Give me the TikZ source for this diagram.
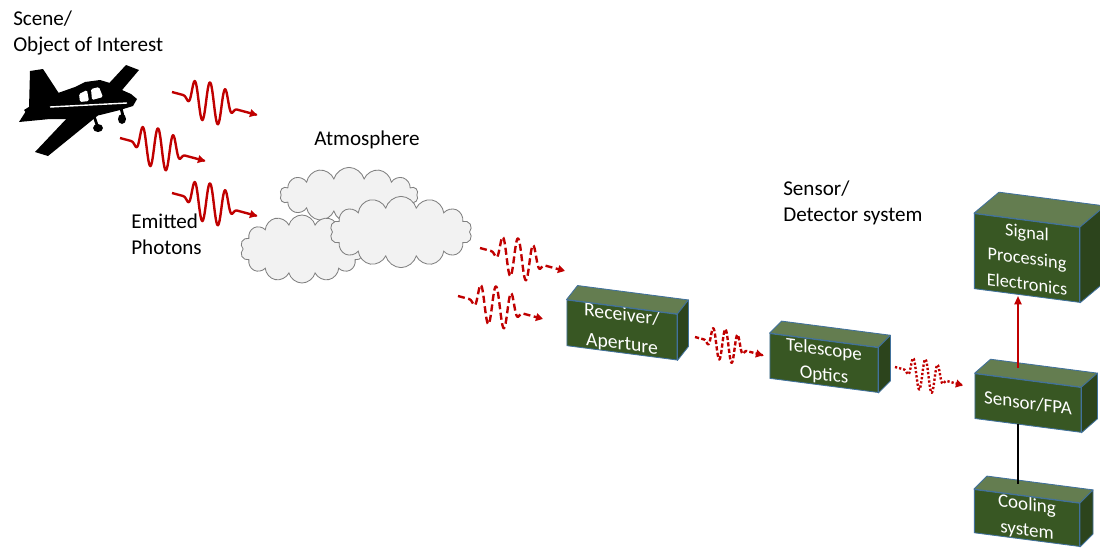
\documentclass[tikz,border=0pt]{standalone}
\usepackage{fontspec}
\setmainfont{Carlito}
\usetikzlibrary{arrows.meta,calc,shapes.symbols}

\definecolor{boxfront}{HTML}{385723}
\definecolor{boxtop}{HTML}{647D50}
\definecolor{boxside}{HTML}{2C441C}
\definecolor{boxline}{HTML}{41719C}
\definecolor{wavered}{HTML}{C00000}
\definecolor{cloudfill}{HTML}{F2F2F2}
\definecolor{cloudline}{HTML}{808080}

\tikzset{
  declare function={env(\t)=exp(-min(pow((\t-38)*(\t-38)/441,3),9));},
  lbl/.style={align=left, inner sep=0pt, font=\fontsize{15}{18.4}\selectfont},
  block/.style={draw=boxline, fill=boxfront, line width=0.6pt, text=white,
    yslant=-0.13, minimum width=2.7cm, minimum height=1.12cm, inner sep=0pt,
    align=center, font=\fontsize{13.5}{18}\selectfont},
  topface/.style={draw=boxline, fill=boxtop, line width=0.6pt, line join=round},
  sideface/.style={draw=boxline, fill=boxside, line width=0.6pt, line join=round},
  puff/.style={cloud, cloud puffs=14, cloud ignores aspect, draw=cloudline,
    fill=cloudfill, line width=0.6pt},
  photon/.style={draw=wavered, line width=1.7pt, line join=round,
    -{Triangle[length=5pt,width=5.5pt]}},
  packet/.pic={
    \draw[photon] plot[domain=0:85, samples=110, smooth]
      (\x, {0.27*\x - 20*env(\x)*cos(23.2*(\x-38))});
  },
}

% front face as a slanted node, top and side faces hung on its corners
\newcommand{\cuboid}[5]{%
  \node[block, #4] (#1) at #2 {#5};
  \filldraw[topface] (#1.north west) -- ($(#1.north west)+#3$)
    -- ($(#1.north east)+#3$) -- (#1.north east) -- cycle;
  \filldraw[sideface] (#1.north east) -- ($(#1.north east)+#3$)
    -- ($(#1.south east)+#3$) -- (#1.south east) -- cycle;
}

\begin{document}
\begin{tikzpicture}[x=0.025cm, y=-0.025cm]
\useasboundingbox (0,0) rectangle (1100,548);
\clip (0,0) rectangle (1100,548);

% airplane
\fill (24,110) -- (40,100) -- (58,93) -- (75,87) -- (85,82) -- (100,80)
  -- (110,83) -- (122,90) -- (131,94) -- (137,99) -- (133,106) -- (120,110)
  -- (100,115) -- (75,119) -- (50,119) -- (30,118) -- cycle;
\fill (29,108) -- (30,71) -- (43,69) -- (60,95) -- cycle;
\fill (19,122) -- (26,111) -- (56,111) -- (50,119) -- cycle;
\fill (70,115) -- (101,113) -- (48,156) -- (35,152) -- cycle;
\fill (101,92) -- (126,65) -- (139,70) -- (117,96) -- cycle;
\fill[white, rounded corners=1pt] (79,94) -- (87,90) -- (89,101) -- (80,102) -- cycle;
\fill[white, rounded corners=1pt] (91,89) -- (99,87) -- (103,97) -- (92,100) -- cycle;
\draw[white, line width=1pt] (50,107) -- (127,103);
\draw[line width=2pt] (121,108) -- (123,116);
\fill (122,119) ellipse [x radius=4, y radius=5];
\draw[line width=2pt] (94,116) -- (97,125);
\fill (98,128) ellipse [x radius=5, y radius=4];

\node[lbl, anchor=north west] (scene) at (13,11) {Scene/\\Object of Interest};
\node[lbl] (atmo) at (367,140) {Atmosphere};
\node[lbl, anchor=north west] (emitted) at (131,214) {Emitted\\Photons};
\node[lbl, anchor=north west] (sensorsys) at (783,181) {Sensor/\\Detector system};

% emitted photons
\pic at (172,92) {packet};
\pic at (120,138) {packet};
\pic at (172,193) {packet};

% clouds
\node[puff, minimum width=3.45cm, minimum height=1.38cm] (cloudback) at (349,195) {};
\node[puff, minimum width=3.08cm, minimum height=1.7cm] (cloudleft) at (302,249) {};
\node[puff, minimum width=3.55cm, minimum height=1.78cm] (cloudright) at (401,232) {};

% photons through the atmosphere and the sensor chain
\pic[dash pattern=on 5pt off 2.5pt] at (480,248) {packet};
\pic[dash pattern=on 5pt off 2.5pt] at (458,296) {packet};
\pic[scale=0.8, dash pattern=on 3pt off 1.6pt] at (695,337) {packet};
\pic[scale=0.8, dash pattern=on 1.6pt off 1.4pt] at (895,367) {packet};

\cuboid{receiver}{(622,330)}{(11,-14)}{minimum width=2.75cm, minimum height=1.1cm, font=\fontsize{14}{20.5}\selectfont}{Receiver/\\Aperture}
\cuboid{telescope}{(824,363)}{(12,-12)}{}{Telescope\\Optics}
\cuboid{signal}{(1027,258)}{(25,-21)}{minimum width=2.63cm, minimum height=1.875cm, font=\fontsize{13}{18.5}\selectfont}{Signal\\Processing\\Electronics}
\cuboid{fpa}{(1028,403)}{(16,-14)}{minimum width=2.65cm}{Sensor/FPA}
\cuboid{cooling}{(1027,518)}{(13,-13)}{minimum width=2.63cm, minimum height=1.08cm}{Cooling\\system}

\coordinate (fpatop) at ($(fpa.north)+(-10,-12)$);
\draw[wavered, line width=1.4pt, -{Triangle[length=6pt,width=5pt]}] (fpatop) -- (fpatop |- signal.south);
\coordinate (fpabot) at ($(fpa.south)+(-10,-2)$);
\draw[line width=1.4pt] (fpabot) -- ($(fpabot |- cooling.north)+(0,-12)$);
\end{tikzpicture}
\end{document}
